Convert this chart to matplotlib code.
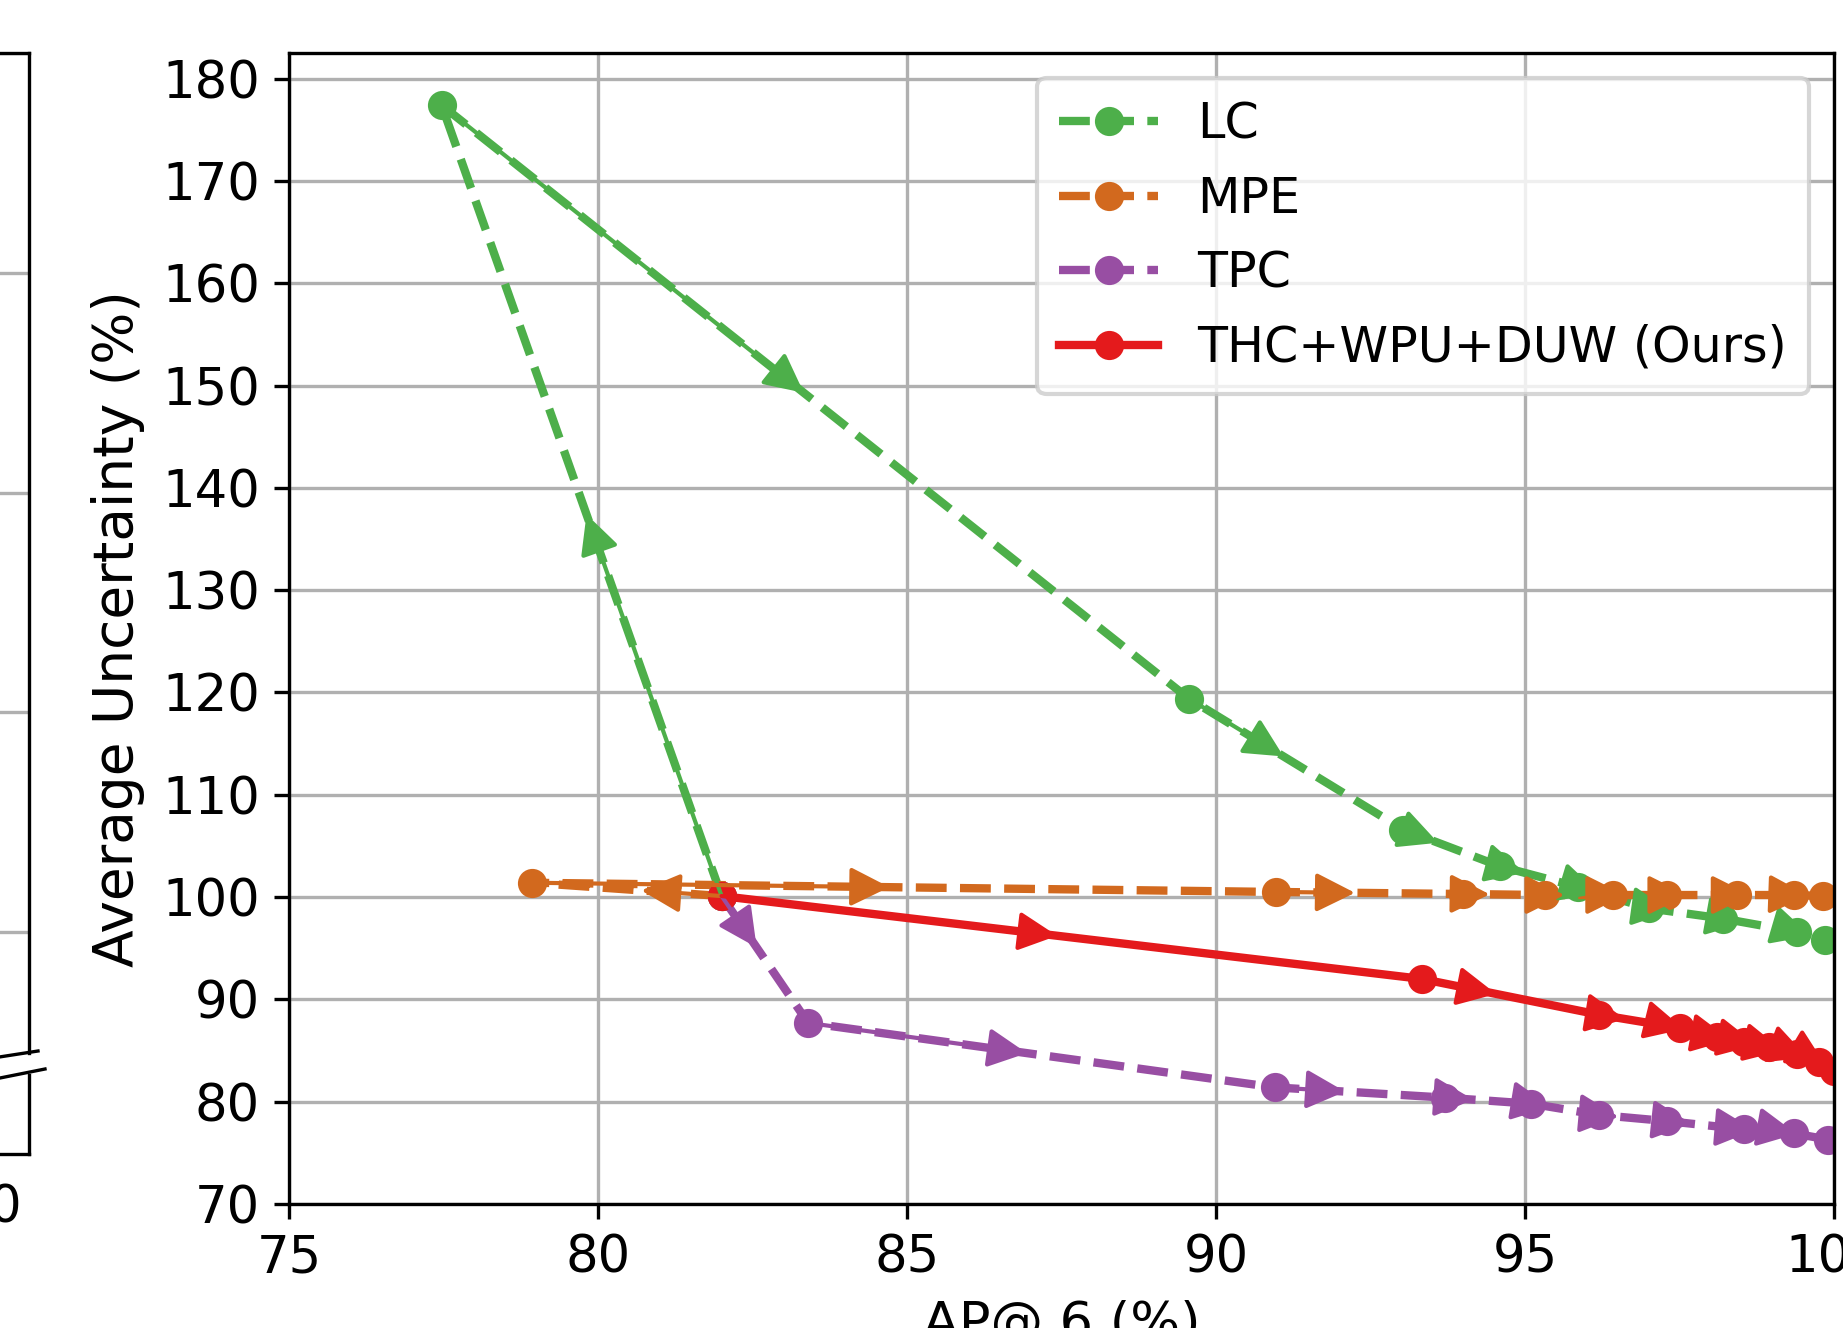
import matplotlib
matplotlib.use('Agg')
import matplotlib.pyplot as plt
from matplotlib.lines import Line2D

plt.rcParams['font.family'] = ['DejaVu Sans']
plt.rcParams['font.size'] = 12

# ---------------- data ----------------
lc_x = [82.0, 77.47, 89.56, 93.03, 94.6, 95.85, 97.0, 98.2, 99.4, 99.85]
lc_y = [100.1, 177.4, 119.4, 106.6, 103.0, 101.0, 98.9, 97.9, 96.6, 95.8]

mpe_x = [82.0, 78.93, 90.97, 94.0, 95.33, 96.42, 97.3, 98.43, 99.35, 99.82]
mpe_y = [100.1, 101.4, 100.5, 100.3, 100.2, 100.2, 100.2, 100.2, 100.2, 100.1]

tpc_x = [82.0, 83.4, 90.95, 93.7, 95.1, 96.2, 97.3, 98.55, 99.35, 99.9]
tpc_y = [100.1, 87.7, 81.4, 80.4, 79.8, 78.7, 78.1, 77.3, 76.9, 76.3]

ours_x = [82.0, 93.33, 96.2, 97.5, 98.1, 98.55, 98.95, 99.4, 99.75, 100.0]
ours_y = [100.1, 92.0, 88.5, 87.2, 86.3, 85.8, 85.3, 84.7, 83.9, 83.0]

labels = ['LC', 'MPE', 'TPC', 'THC+WPU+DUW (Ours)']
colors = ['#4daf4a', '#d2691e', '#984ea3', '#e41a1c']
styles = ['--', '--', '--', '-']
xticks = [75, 80, 85, 90, 95, 100]
yticks = [70, 80, 90, 100, 110, 120, 130, 140, 150, 160, 170, 180]

# ---------------- figure ----------------
W, H, DPI = 1843, 1328, 300
fig = plt.figure(figsize=(W / DPI, H / DPI), dpi=DPI)


def px_rect(l, t, r, b):
    return [l / W, 1 - b / H, (r - l) / W, (b - t) / H]


# fragment of neighbouring (broken-axis) subplot on the left
axl1 = fig.add_axes(px_rect(-900, 53, 28.5, 1053))
axl1.set_ylim(-0.55, 4)
axl1.set_yticks([0, 1, 2, 3, 4])
axl1.set_yticklabels([])
axl1.set_xticks([])
axl1.grid(axis='y')
axl1.spines['bottom'].set_visible(False)

axl2 = fig.add_axes(px_rect(-900, 1075, 28.5, 1154))
axl2.set_xlim(0, 1)
axl2.set_yticks([])
axl2.set_xticks([0.94])
axl2.set_xticklabels(['100'])
axl2.tick_params(labelsize=12.3)
axl2.spines['top'].set_visible(False)

fig.add_artist(Line2D([-20 / W, 38 / W], [1 - 1060 / H, 1 - 1051 / H], color='k', lw=0.8))
fig.add_artist(Line2D([-20 / W, 45 / W], [1 - 1082 / H, 1 - 1069 / H], color='k', lw=0.8))

# main axes
ax = fig.add_axes(px_rect(289, 53, 1834, 1204))

series = [(lc_x, lc_y), (mpe_x, mpe_y), (tpc_x, tpc_y), (ours_x, ours_y)]
for (xs, ys), lab, c, ls in zip(series, labels, colors, styles):
    ax.plot(xs, ys, linestyle=ls, marker='o', color=c, lw=2, ms=6, label=lab)

for (xs, ys), c in zip(series, colors):
    for i in range(len(xs) - 1):
        mx = (xs[i] + xs[i + 1]) / 2
        my = (ys[i] + ys[i + 1]) / 2
        ax.annotate('', xy=(mx, my), xytext=(xs[i], ys[i]),
                    arrowprops=dict(arrowstyle='-|>', color=c, lw=1,
                                    mutation_scale=20, shrinkA=0, shrinkB=3.5))

ax.set_xlim(75, 100)
ax.set_ylim(70, 182.5)
ax.set_xticks(xticks)
ax.set_yticks(yticks)
ax.tick_params(labelsize=12.3)
ax.grid(True)
ax.set_xlabel('AP@.6 (%)', fontsize=12.6)
ax.set_ylabel('Average Uncertainty (%)', fontsize=13.2)
ax.legend(loc='upper right', fontsize=11.8, labelspacing=0.54, borderpad=0.46)

fig.savefig('out.png', dpi=DPI)
